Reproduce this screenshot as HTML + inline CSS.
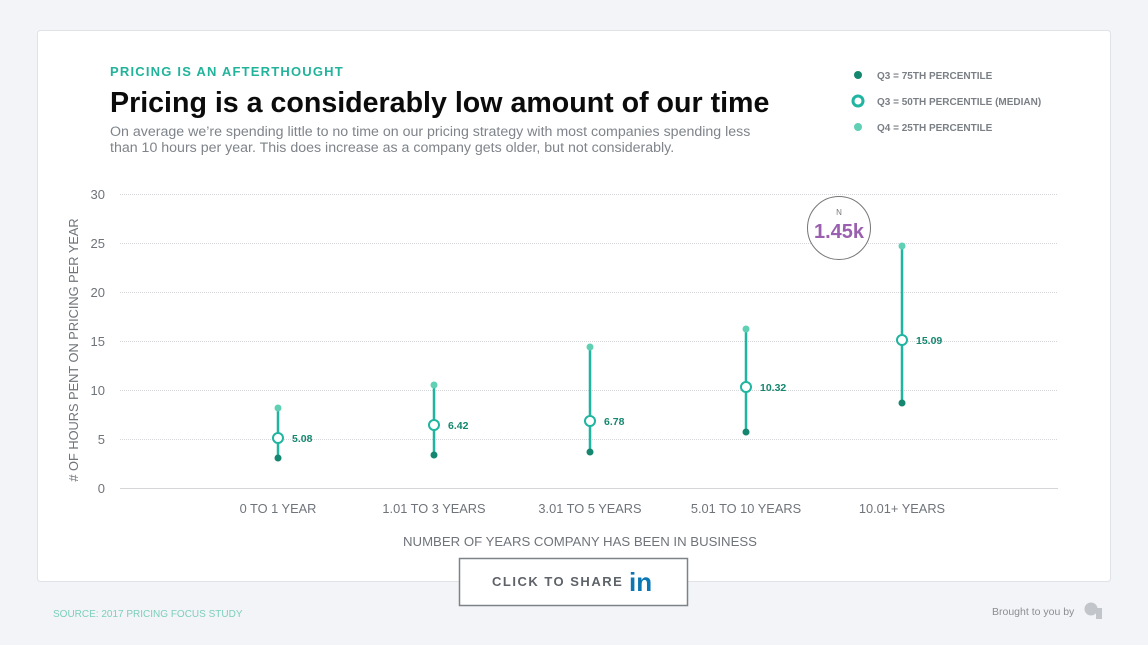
<!DOCTYPE html>
<html><head><meta charset="utf-8"><style>
html,body{margin:0;padding:0;background:#f3f4f7;width:1148px;height:645px;overflow:hidden;font-family:"Liberation Sans","DejaVu Sans",sans-serif}
</style></head><body>
<svg width="1148" height="645" viewBox="0 0 1148 645" xmlns="http://www.w3.org/2000/svg" font-family="Liberation Sans, DejaVu Sans, sans-serif">
<rect x="0" y="0" width="1148" height="645" fill="#f3f4f7"/>
<rect x="37.5" y="30.5" width="1073" height="551" rx="3" fill="#fff" stroke="#dfe2e6"/>
<text x="110" y="76" font-size="13" font-weight="bold" fill="#22b39b" letter-spacing="1.2">PRICING IS AN AFTERTHOUGHT</text>
<text x="110" y="112" font-size="28.6" font-weight="bold" fill="#0b0b0b">Pricing is a considerably low amount of our time</text>
<text x="110" y="136" font-size="14.2" fill="#7f848a">On average we’re spending little to no time on our pricing strategy with most companies spending less</text>
<text x="110" y="152" font-size="14.2" fill="#7f848a">than 10 hours per year. This does increase as a company gets older, but not considerably.</text>
<!-- legend -->
<circle cx="858" cy="75" r="4" fill="#15866f"/>
<text x="877" y="79" font-size="10" font-weight="600" fill="#7a7f85">Q3 = 75TH PERCENTILE</text>
<circle cx="858" cy="101" r="5" fill="#fff" stroke="#1fb5a0" stroke-width="3"/>
<text x="877" y="105" font-size="10" font-weight="600" fill="#7a7f85">Q3 = 50TH PERCENTILE (MEDIAN)</text>
<circle cx="858" cy="127" r="4" fill="#5fd0b3"/>
<text x="877" y="131" font-size="10" font-weight="600" fill="#7a7f85">Q4 = 25TH PERCENTILE</text>
<!-- grid -->
<g stroke="#d4d6da" stroke-dasharray="1 1" stroke-width="1">
<line x1="120" y1="194.5" x2="1058" y2="194.5"/>
<line x1="120" y1="243.5" x2="1058" y2="243.5"/>
<line x1="120" y1="292.5" x2="1058" y2="292.5"/>
<line x1="120" y1="341.5" x2="1058" y2="341.5"/>
<line x1="120" y1="390.5" x2="1058" y2="390.5"/>
<line x1="120" y1="439.5" x2="1058" y2="439.5"/>
</g>
<line x1="120" y1="488.5" x2="1058" y2="488.5" stroke="#d4d6da"/>
<g font-size="13" fill="#6f747a" text-anchor="end">
<text x="105" y="199">30</text><text x="105" y="248">25</text><text x="105" y="297">20</text>
<text x="105" y="346">15</text><text x="105" y="395">10</text><text x="105" y="444">5</text><text x="105" y="493">0</text>
</g>
<text transform="translate(78,350) rotate(-90)" font-size="12.8" fill="#6f747a" text-anchor="middle"># OF HOURS PENT ON PRICING PER YEAR</text>
<g font-size="12.8" fill="#6f747a" text-anchor="middle">
<text x="278" y="513">0 TO 1 YEAR</text><text x="434" y="513">1.01 TO 3 YEARS</text><text x="590" y="513">3.01 TO 5 YEARS</text>
<text x="746" y="513">5.01 TO 10 YEARS</text><text x="902" y="513">10.01+ YEARS</text>
</g>
<text x="580" y="546" font-size="13.2" fill="#6f747a" text-anchor="middle">NUMBER OF YEARS COMPANY HAS BEEN IN BUSINESS</text>
<!-- series -->
<g stroke="#1fb5a0" stroke-width="2.5">
<line x1="278" y1="408" x2="278" y2="458"/>
<line x1="434" y1="385" x2="434" y2="455"/>
<line x1="590" y1="347" x2="590" y2="452"/>
<line x1="746" y1="329" x2="746" y2="432"/>
<line x1="902" y1="246" x2="902" y2="403"/>
</g>
<g fill="#5fd0b3">
<circle cx="278" cy="408" r="3.5"/><circle cx="434" cy="385" r="3.5"/><circle cx="590" cy="347" r="3.5"/><circle cx="746" cy="329" r="3.5"/><circle cx="902" cy="246" r="3.5"/>
</g>
<g fill="#15866f">
<circle cx="278" cy="458" r="3.5"/><circle cx="434" cy="455" r="3.5"/><circle cx="590" cy="452" r="3.5"/><circle cx="746" cy="432" r="3.5"/><circle cx="902" cy="403" r="3.5"/>
</g>
<g fill="#fff" stroke="#1fb5a0" stroke-width="2">
<circle cx="278" cy="438" r="5"/><circle cx="434" cy="425" r="5"/><circle cx="590" cy="421" r="5"/><circle cx="746" cy="387" r="5"/><circle cx="902" cy="340" r="5"/>
</g>
<g font-size="10.5" font-weight="bold" fill="#15866f">
<text x="292" y="442">5.08</text><text x="448" y="429">6.42</text><text x="604" y="425">6.78</text><text x="760" y="391">10.32</text><text x="916" y="344">15.09</text>
</g>
<!-- N badge -->
<circle cx="839" cy="228" r="31.5" fill="#fff" stroke="#777" stroke-width="1"/>
<text x="839" y="215" font-size="8" fill="#777" text-anchor="middle">N</text>
<text x="839" y="238" font-size="20" font-weight="600" fill="#9b5fb0" text-anchor="middle">1.45k</text>
<!-- share button -->
<rect x="459.5" y="558.5" width="228" height="47" fill="#fff" stroke="#7d8288" stroke-width="1.5"/>
<text x="492" y="586" font-size="13" font-weight="bold" fill="#5e6369" letter-spacing="1.5">CLICK TO SHARE</text>
<text x="629" y="591" font-size="26" font-weight="bold" fill="#0a76b4">in</text>
<text x="53" y="617" font-size="10" fill="#7ccfbd">SOURCE: 2017 PRICING FOCUS STUDY</text>
<text x="992" y="615" font-size="10.5" fill="#8a8e93">Brought to you by</text>
<circle cx="1091" cy="609" r="6.5" fill="#c2c5c9"/>
<rect x="1096" y="608" width="6" height="11" fill="#c2c5c9"/>
</svg>
</body></html>
